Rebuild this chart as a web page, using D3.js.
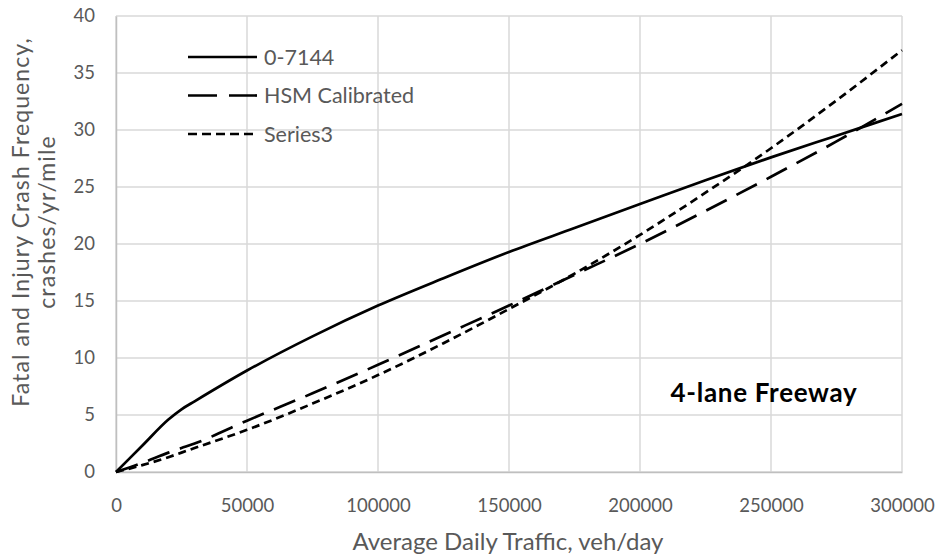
<!DOCTYPE html>
<html>
<head>
<meta charset="utf-8">
<script src="https://cdn.jsdelivr.net/npm/d3@7"></script>
<style>
  body { margin: 0; background: #fff; }
  svg { display: block; }
</style>
</head>
<body>
<svg id="chart"></svg>
<script>
// values
const adt = [0, 10000, 20000, 25000, 30000, 50000, 75000, 100000, 125000, 150000, 175000, 200000, 225000, 250000, 275000, 300000];
const solidVals = [0, 2.3, 4.6, 5.5, 6.2, 8.9, 11.9, 14.6, 17.0, 19.3, 21.4, 23.5, 25.6, 27.6, 29.5, 31.4];
const hsmVals = [0, 0.8, 1.7, 2.1, 2.5, 4.5, 6.9, 9.4, 12.0, 14.6, 17.3, 20.0, 22.9, 25.9, 29.0, 32.3];
const series3Vals = [0, 0.6, 1.3, 1.7, 2.1, 3.7, 6.0, 8.5, 11.3, 14.3, 17.4, 20.8, 24.5, 28.4, 32.6, 37.0];
const seriesNames = ["0-7144", "HSM Calibrated", "Series3"];
const xTicks = [0, 50000, 100000, 150000, 200000, 250000, 300000];
const yTicks = [0, 5, 10, 15, 20, 25, 30, 35, 40];

const w = 943, h = 559;
const margin = { top: 16, right: 41, bottom: 87, left: 116 };
const font = "Lato, 'Open Sans', sans-serif";

const svg = d3.select("#chart").attr("width", w).attr("height", h);

const xScale = d3.scaleLinear().domain([0, 300000]).range([margin.left, w - margin.right]);
const yScale = d3.scaleLinear().domain([0, 40]).range([h - margin.bottom, margin.top]);

// grid
svg.append("g")
    .selectAll("line")
    .data(xTicks)
    .join("line")
    .attr("x1", d => xScale(d)).attr("x2", d => xScale(d))
    .attr("y1", yScale(0)).attr("y2", yScale(40))
    .attr("stroke", "#d9d9d9").attr("stroke-width", 1.5);

svg.append("g")
    .selectAll("line")
    .data(yTicks)
    .join("line")
    .attr("x1", xScale(0)).attr("x2", xScale(300000))
    .attr("y1", d => yScale(d)).attr("y2", d => yScale(d))
    .attr("stroke", "#d9d9d9").attr("stroke-width", 1.5);

// axes
let xAxis = g => g
    .attr("transform", `translate(0,${yScale(0)})`)
    .call(d3.axisBottom(xScale).tickValues(xTicks).tickFormat(d3.format("d")).tickSize(0).tickPadding(27))
    .call(g => g.select(".domain").attr("stroke", "#bfbfbf").attr("stroke-width", 1.5))
    .call(g => g.selectAll("text").attr("fill", "#595959").style("font-size", "18.5px").style("font-family", font));

let yAxis = g => g
    .attr("transform", `translate(${xScale(0)},0)`)
    .call(d3.axisLeft(yScale).tickValues(yTicks).tickSize(0).tickPadding(21))
    .call(g => g.select(".domain").attr("stroke", "#bfbfbf").attr("stroke-width", 1.5))
    .call(g => g.selectAll("text").attr("fill", "#595959").style("font-size", "18.5px").style("font-family", font));

svg.append("g").call(xAxis);
svg.append("g").call(yAxis);

// lines
const series = [
    { name: seriesNames[0], vals: solidVals, dash: null },
    { name: seriesNames[1], vals: hsmVals, dash: "23,11" },
    { name: seriesNames[2], vals: series3Vals, dash: "8,5" }
];

const line = d3.line()
    .x((d, i) => xScale(adt[i]))
    .y(d => yScale(d))
    .curve(d3.curveMonotoneX);

svg.append("g")
    .selectAll("path")
    .data(series)
    .join("path")
    .attr("d", d => line(d.vals))
    .attr("fill", "none")
    .attr("stroke", "#000")
    .attr("stroke-width", 2.7)
    .attr("stroke-dasharray", d => d.dash);

// legend
const legend = svg.append("g").attr("transform", "translate(188,57)");
const rows = legend.selectAll("g")
    .data(series)
    .join("g")
    .attr("transform", (d, i) => `translate(0,${i * 38.5})`);

rows.append("line")
    .attr("x1", 0).attr("x2", 69)
    .attr("stroke", "#000").attr("stroke-width", 2.7)
    .attr("stroke-dasharray", d => d.dash ? (d.dash === "8,5" ? "9,5" : "29,12") : null);

rows.append("text")
    .attr("x", 76).attr("dy", "0.35em")
    .attr("fill", "#595959")
    .style("font-size", "21.5px")
    .style("font-family", font)
    .text(d => d.name);

// annotation
svg.append("text")
    .attr("x", 764).attr("y", 402)
    .attr("text-anchor", "middle")
    .style("font-size", "26px")
    .style("font-weight", "bold")
    .style("letter-spacing", "0.7px")
    .style("font-family", font)
    .attr("fill", "#000")
    .text("4-lane Freeway");

// axis titles
svg.append("text")
    .attr("x", 508).attr("y", 550)
    .attr("text-anchor", "middle")
    .attr("fill", "#595959")
    .style("font-size", "24px")
    .style("font-family", font)
    .text("Average Daily Traffic, veh/day");

const yTitle = svg.append("text")
    .attr("transform", "translate(0,222) rotate(-90)")
    .attr("text-anchor", "middle")
    .attr("fill", "#595959")
    .style("font-size", "23px")
    .style("letter-spacing", "1.1px")
    .style("font-family", font);

yTitle.append("tspan").attr("x", 0).attr("y", 29).text("Fatal and Injury Crash Frequency,");
yTitle.append("tspan").attr("x", 0).attr("y", 55).text("crashes/yr/mile");
</script>
</body>
</html>
